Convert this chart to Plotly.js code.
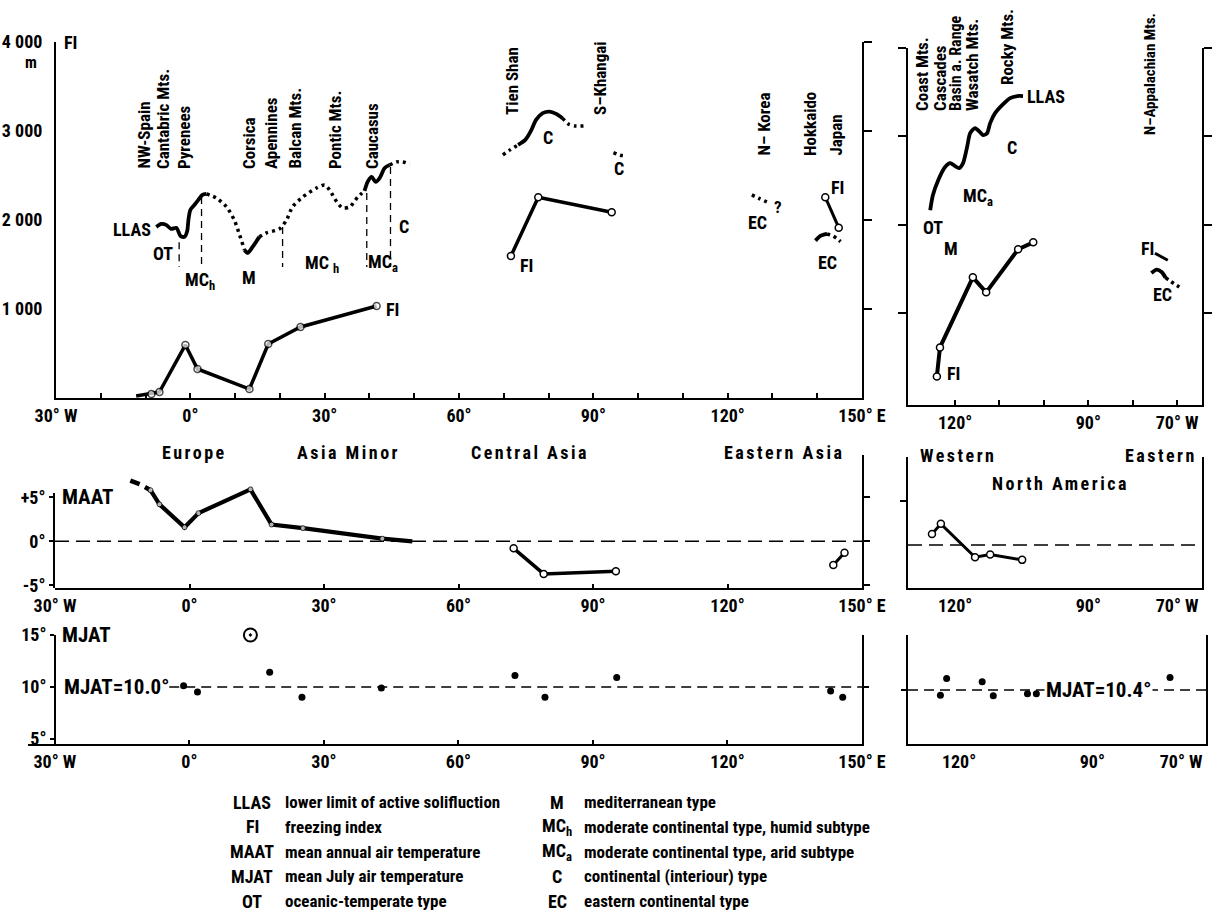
<!DOCTYPE html>
<html><head><meta charset="utf-8">
<script src="https://cdn.plot.ly/plotly-3.0.1.min.js"></script>
<style>html,body{margin:0;padding:0;background:#fff}#chart{width:1223px;height:914px}</style>
</head><body><div id="chart"></div>
<script>
// ===== DATA (longitude: °E, negative = °W for Eurasia; °W for North America) =====
// --- Eurasia, elevation panel (m) ---
const llasEuSolidALon=[-7.6,-6.5,-5.4,-4.3,-3.1,-2.2,-1.3,-0.7,-0.4,0.0,0.9,1.8,2.7,3.6];
const llasEuSolidA=[1922,1956,1945,1900,1911,1821,1810,1877,2012,2113,2169,2226,2282,2293];
const llasEuDotALon=[3.6,5.8,8.1,9.8,11.0,12.1];
const llasEuDotA=[2293,2248,2147,2001,1832,1663];
const llasEuSolidBLon=[12.1,12.8,13.9,15.4];
const llasEuSolidB=[1663,1630,1697,1810];
const llasEuDotBLon=[15.4,17.0,19.9,21.5,22.8,25.1,28.2,30.0,31.1,32.7,34.0,35.6,37.4,38.9];
const llasEuDotB=[1810,1855,1900,2001,2147,2259,2360,2394,2338,2203,2136,2147,2259,2327];
const llasEuSolidCLon=[38.9,39.6,40.5,41.4,42.3,43.4,44.5];
const llasEuSolidC=[2327,2428,2484,2428,2473,2585,2619];
const llasEuDotCLon=[44.5,46.1,47.4,49.0];
const llasEuDotC=[2619,2653,2653,2630];
const typeBoundLon=[-2.5,2.5,20.6,39.4,44.7];
const typeBoundTop=[1750,2259,1922,2304,2596];
const typeBoundBottom=1472;
const fiEuLon=[-12.1,-8.7,-6.9,-1.1,1.6,13.2,17.4,24.6,41.6];
const fiEu=[22,45,67,596,326,101,607,798,1034];
// Central Asia
const llasTsDotALon=[69.8,71.4,73.2];
const llasTsDotA=[2731,2788,2844];
const llasTsSolidLon=[73.2,74.8,76.1,77.2,78.7,80.2,81.7,83.1];
const llasTsSolid=[2844,2900,3004,3125,3200,3218,3192,3144];
const llasTsDotBLon=[83.1,84.4,85.9,87.8];
const llasTsDotB=[3144,3080,3057,3057];
const llasKhLon=[94.5,96.0,97.3];
const llasKh=[2757,2728,2720];
const fiCaLon=[71.6,77.7,94.1];
const fiCa=[1596,2256,2087];
// Eastern Asia
const llasKoLon=[125.4,126.9,129.4];
const llasKo=[2282,2245,2188];
const fiJpLon=[141.8,144.8];
const fiJp=[2256,1914];
const llasJpSolidLon=[139.6,140.7,142.2];
const llasJpSolid=[1768,1821,1843];
const llasJpDotLon=[142.2,143.5,144.3,145.2];
const llasJpDot=[1843,1821,1795,1757];
// North America, elevation panel (longitude °W)
const llasNaLonW=[125.6,125.0,123.8,122.3,121.1,120.0,119.1,118.2,117.3,116.6,115.5,114.4,113.7,112.8,112.1,111.0,109.4,107.6,106.0,104.7];
const llasNa=[2164,2334,2504,2651,2697,2663,2640,2697,2878,3036,3093,3048,3014,3036,3150,3263,3354,3433,3456,3456];
const fiNaLonW=[124.1,123.4,116.0,113.0,105.8,102.4];
const fiNa=[283,612,1405,1235,1722,1801];
const fiAppLonW=[75.0,72.1];
const fiApp=[1677,1598];
const llasAppSolidLonW=[75.8,74.6,73.5,72.6];
const llasAppSolid=[1454,1492,1465,1401];
const llasAppDotLonW=[72.6,71.8,70.7,69.5];
const llasAppDot=[1401,1371,1333,1295];
// --- MAAT (°C) ---
const maatEuDashLon=[-13.2,-10.7,-8.7];
const maatEuDash=[6.9,6.4,5.8];
const maatEuLon=[-8.7,-6.7,-1.1,2.0,13.6,18.3,25.3,43.0,49.7];
const maatEu=[5.8,4.2,1.6,3.2,5.9,1.9,1.5,0.3,0.0];
const maatCaLon=[72.3,79.0,95.1];
const maatCa=[-0.8,-3.7,-3.4];
const maatJpLon=[143.6,146.1];
const maatJp=[-2.7,-1.3];
const maatNaLonW=[125.2,123.2,115.5,112.1,104.9];
const maatNa=[1.25,2.4,-1.4,-1.1,-1.7];
// --- MJAT (°C) ---
const mjatEuLon=[-1.3,1.8,17.9,25.1,42.8,72.6,79.3,95.3,143.0,145.7];
const mjatEu=[10.1,9.5,11.4,9.0,9.9,11.1,9.0,10.9,9.6,9.0];
const mjatEuOutlierLon=[13.6];
const mjatEuOutlier=[15.0];
const mjatNaLonW=[124.2,122.8,114.8,112.3,104.6,102.6,72.5];
const mjatNa=[9.9,11.5,11.2,9.85,10.05,10.05,11.6];
const mjatMeanEu=10.0;
const mjatMeanNa=10.4;
// --- tick labels ---
const euMajorVals=[-30,0,30,60,90,120,150];
const euMajorText=['30° W','0°','30°','60°','90°','120°','150° E'];
const euMinorVals=[-20,-10,10,20,40,50,70,80,100,110,130,140];
const naMajorVals=[120,90,70];
const naMajorText=['120°','90°','70° W'];
const naMinorVals=[110,100,80];
const elevTickVals=[1000,2000,3000,4000];
const elevTickText=['1 000','2 000','3 000','4 000'];
const maatTickVals=[-5,0,5];
const maatTickText=['-5°','0°','+5°'];
const mjatTickVals=[5,10,15];
const mjatTickText=['5°','10°','15°'];
const legendAbbrL=['LLAS','FI','MAAT','MJAT','OT'];
const legendDescL=['lower limit of active solifluction','freezing index','mean annual air temperature','mean July air temperature','oceanic-temperate type'];
const legendAbbrR=['M','MC<sub>h</sub>','MC<sub>a</sub>','C','EC'];
const legendDescR=['mediterranean type','moderate continental type, humid subtype','moderate continental type, arid subtype','continental (interiour) type','eastern continental type'];

// ===== LAYOUT HELPERS =====
const W=1223,H=914;
const FONT="'Roboto Condensed','Liberation Sans',sans-serif";
const fx=p=>p/W, fy=p=>1-p/H;
const xd=(a,b)=>[fx(a),fx(b)], yd=(t,b)=>[fy(b),fy(t)];
const fnt=(s,w)=>({family:FONT,size:s,color:'#000',weight:w||'bold'});

const traces=[];
function tr(x,y,xa,ya,o){traces.push(Object.assign({type:'scatter',mode:'lines',x:x,y:y,xaxis:xa,yaxis:ya,hoverinfo:'skip',showlegend:false,cliponaxis:false},o));}
const solid=(w)=>({color:'#000',width:w||3.8,shape:'spline',smoothing:0.7});
const dotted=(w)=>({color:'#000',width:w||3.5,dash:'3px,4px',shape:'spline',smoothing:0.7});
const straight=(w)=>({color:'#000',width:w||3.5});
const openM=(s)=>({symbol:'circle',size:s||7,color:'#fff',line:{color:'#000',width:1.5}});

// Eurasia elevation
tr(llasEuSolidALon,llasEuSolidA,'x','y',{line:solid()});
tr(llasEuDotALon,llasEuDotA,'x','y',{line:dotted()});
tr(llasEuSolidBLon,llasEuSolidB,'x','y',{line:solid()});
tr(llasEuDotBLon,llasEuDotB,'x','y',{line:dotted()});
tr(llasEuSolidCLon,llasEuSolidC,'x','y',{line:solid()});
tr(llasEuDotCLon,llasEuDotC,'x','y',{line:dotted()});
typeBoundLon.forEach((lon,i)=>tr([lon,lon],[typeBoundTop[i],typeBoundBottom],'x','y',{line:{color:'#000',width:1.3,dash:'7px,5px'}}));
tr(fiEuLon,fiEu,'x','y',{mode:'lines+markers',line:straight(3.5),marker:Object.assign(openM(7),{size:fiEuLon.map((_,i)=>i===0?0:7)})});
tr(llasTsDotALon,llasTsDotA,'x','y',{line:dotted()});
tr(llasTsSolidLon,llasTsSolid,'x','y',{line:solid()});
tr(llasTsDotBLon,llasTsDotB,'x','y',{line:dotted()});
tr(llasKhLon,llasKh,'x','y',{line:dotted()});
tr(fiCaLon,fiCa,'x','y',{mode:'lines+markers',line:straight(3.5),marker:openM(7)});
tr(llasKoLon,llasKo,'x','y',{line:dotted()});
tr(fiJpLon,fiJp,'x','y',{mode:'lines+markers',line:straight(3),marker:openM(7)});
tr(llasJpSolidLon,llasJpSolid,'x','y',{line:solid()});
tr(llasJpDotLon,llasJpDot,'x','y',{line:dotted()});
tr([],[],'x','y7',{});
// North America elevation
tr(llasNaLonW,llasNa,'x2','y2',{line:solid()});
tr(fiNaLonW,fiNa,'x2','y2',{mode:'lines+markers',line:straight(4),marker:openM(7)});
tr(fiAppLonW,fiApp,'x2','y2',{line:straight(3)});
tr(llasAppSolidLonW,llasAppSolid,'x2','y2',{line:solid()});
tr(llasAppDotLonW,llasAppDot,'x2','y2',{line:dotted()});
tr([],[],'x2','y8',{});
// MAAT
tr(maatEuDashLon,maatEuDash,'x3','y3',{line:{color:'#000',width:4.5,dash:'10px,6px'}});
tr(maatEuLon,maatEu,'x3','y3',{mode:'lines+markers',line:straight(4.2),marker:Object.assign(openM(5),{size:maatEuLon.map((_,i)=>i===maatEuLon.length-1?0:5),line:{color:'#000',width:1}})});
tr(maatCaLon,maatCa,'x3','y3',{mode:'lines+markers',line:straight(3.5),marker:openM(7)});
tr(maatJpLon,maatJp,'x3','y3',{mode:'lines+markers',line:straight(3),marker:openM(7)});
tr([],[],'x3','y9',{});
tr(maatNaLonW,maatNa,'x4','y4',{mode:'lines+markers',line:straight(3),marker:openM(7)});
// MJAT
tr(mjatEuLon,mjatEu,'x5','y5',{mode:'markers',marker:{symbol:'circle',size:7,color:'#000'}});
tr(mjatEuOutlierLon,mjatEuOutlier,'x5','y5',{mode:'markers',marker:{symbol:'circle-open-dot',size:13,color:'#000',line:{color:'#000',width:2}}});
tr([],[],'x5','y10',{});
tr(mjatNaLonW,mjatNa,'x6','y6',{mode:'markers',marker:{symbol:'circle',size:7,color:'#000'}});

// ===== AXES =====
const TF=fnt(18);
const ax=(o)=>Object.assign({showgrid:false,zeroline:false,showline:true,linecolor:'#000',linewidth:2,ticks:'',tickcolor:'#000',tickwidth:2,fixedrange:true,tickfont:TF},o);
const minorIn=(vals)=>({tickmode:'array',tickvals:vals,ticks:'inside',ticklen:5,tickwidth:2,tickcolor:'#000',showgrid:false});
const layout={
  width:W,height:H,margin:{l:0,r:0,t:0,b:0},paper_bgcolor:'#fff',plot_bgcolor:'rgba(0,0,0,0)',showlegend:false,
  xaxis:ax({domain:xd(56,862),range:[-30,150],anchor:'y',tickmode:'array',tickvals:euMajorVals,ticktext:euMajorText,ticks:'inside',ticklen:5,minor:minorIn(euMinorVals)}),
  yaxis:ax({domain:yd(42,398),range:[0,4000],anchor:'x',tickmode:'array',tickvals:elevTickVals,ticktext:elevTickText,ticklabelstandoff:8}),
  yaxis7:ax({overlaying:'y',side:'right',anchor:'x',range:[0,4000],tickmode:'array',tickvals:elevTickVals,ticks:'outside',ticklen:8,showticklabels:false}),
  xaxis2:ax({domain:xd(908,1202),range:[130.6,64.4],anchor:'y2',tickmode:'array',tickvals:naMajorVals,ticktext:naMajorText,ticks:'inside',ticklen:5,minor:minorIn(naMinorVals)}),
  yaxis2:ax({domain:yd(48,405),range:[-40,4000],anchor:'x2',tickmode:'array',tickvals:elevTickVals,ticks:'outside',ticklen:8,showticklabels:false}),
  yaxis8:ax({overlaying:'y2',side:'right',anchor:'x2',range:[-40,4000],tickmode:'array',tickvals:elevTickVals,ticks:'outside',ticklen:8,showticklabels:false}),
  xaxis3:ax({domain:xd(55,862),range:[-30,150],anchor:'y3',tickmode:'array',tickvals:euMajorVals,ticktext:euMajorText,ticks:'inside',ticklen:4}),
  yaxis3:ax({domain:yd(455,588),range:[-5.3,9.8],anchor:'x3',side:'right',tickmode:'array',tickvals:maatTickVals,ticks:'outside',ticklen:6,showticklabels:false}),
  yaxis9:ax({domain:yd(493,588),range:[-5.3,5.5],anchor:'x3',side:'left',tickmode:'array',tickvals:maatTickVals,ticktext:maatTickText,ticks:'outside',ticklen:4}),
  xaxis4:ax({domain:xd(908,1202),range:[130.6,64.4],anchor:'y4',tickmode:'array',tickvals:naMajorVals,ticktext:naMajorText}),
  yaxis4:ax({domain:yd(457,588),range:[-4.9,10.0],anchor:'x4',mirror:true,tickmode:'array',tickvals:[5],ticks:'outside',ticklen:6,showticklabels:false}),
  xaxis5:ax({domain:xd(28,862),range:[-36,150],anchor:'y5',tickmode:'array',tickvals:euMajorVals,ticktext:euMajorText,ticks:'inside',ticklen:4}),
  yaxis5:ax({domain:yd(635,744),range:[4.5,15.0],anchor:'free',position:fx(55),tickmode:'array',tickvals:mjatTickVals,ticktext:mjatTickText,ticks:'outside',ticklen:4}),
  yaxis10:ax({overlaying:'y5',side:'right',anchor:'x5',range:[4.5,15.0],tickmode:'array',tickvals:[mjatMeanEu],ticks:'outside',ticklen:5,showticklabels:false}),
  xaxis6:ax({domain:xd(908,1206),range:[131.5,64.4],anchor:'y6',tickmode:'array',tickvals:naMajorVals,ticktext:naMajorText}),
  yaxis6:ax({domain:yd(635,744),range:[5.2,15.7],anchor:'x6',mirror:true,tickmode:'array',tickvals:[mjatMeanNa],ticks:'outside',ticklen:5,showticklabels:false}),
  shapes:[
    {type:'line',xref:'x3 domain',yref:'y3',x0:0,x1:1,y0:0,y1:0,line:{color:'#000',width:1.5,dash:'14px,7px'},layer:'below'},
    {type:'line',xref:'x4 domain',yref:'y4',x0:0,x1:1,y0:0,y1:0,line:{color:'#000',width:1.5,dash:'14px,7px'},layer:'below'},
    {type:'line',xref:'x5',yref:'y5',x0:-4.5,x1:150,y0:mjatMeanEu,y1:mjatMeanEu,line:{color:'#000',width:1.5,dash:'10px,6px'},layer:'below'},
    {type:'line',xref:'x6 domain',yref:'y6',x0:0,x1:1,y0:mjatMeanNa,y1:mjatMeanNa,line:{color:'#000',width:1.5,dash:'10px,6px'},layer:'below'}
  ],
  annotations:[]
};
const A=layout.annotations;
function lab(text,px,py,o){A.push(Object.assign({text:text,x:fx(px),y:fy(py),xref:'paper',yref:'paper',showarrow:false,xanchor:'center',yanchor:'middle',font:fnt(18)},o||{}));}
function vlab(text,px,pyBottom,size){lab(text,px,pyBottom,{textangle:-90,yanchor:'bottom',font:fnt(size||17)});}
// top-left panel labels
lab('FI',62,43,{xanchor:'left'});
lab('m',31,63,{font:fnt(16)});
['NW-Spain','Cantabric Mts.','Pyrenees','Corsica','Apennines','Balcan Mts.','Pontic Mts.','Caucasus'].forEach((t,i)=>vlab(t,[143,163,184,249,271,294,335,372][i],171));
lab('LLAS',153,229,{xanchor:'right'});
lab('OT',163,253);
lab('MC<sub>h</sub>',200,281);
lab('M',249,277);
lab('MC <sub>h</sub>',322,264);
lab('MC<sub>a</sub>',383,263);
lab('C',404,226);
lab('FI',384,309,{xanchor:'left'});
vlab('Tien Shan',512,117); vlab('S–Khangai',600,117);
lab('C',548,138); lab('C',619,169);
lab('FI',518,265,{xanchor:'left'});
vlab('N– Korea',763,158); vlab('Hokkaido',810,158); vlab('Japan',835,158);
lab('EC',757,222); lab('?',778,207,{font:fnt(17)});
lab('FI',837,187); lab('EC',827,262);
// North America top labels
vlab('Coast Mts.',922,113); vlab('Cascades',940,113); vlab('Basin a. Range',955,113,16); vlab('Wasatch Mts.',972,113);
vlab('Rocky Mts.',1007,87); vlab('N–Appalachian Mts.',1150,137,15);
lab('LLAS',1025,97,{xanchor:'left'});
lab('C',1012,147);
lab('MC<sub>a</sub>',978,197);
lab('OT',933,227);
lab('M',951,248);
lab('FI',945,373,{xanchor:'left'});
lab('FI',1147,248);
lab('EC',1162,294);
// region labels
const sp=t=>'<span style="letter-spacing:2.5px">'+t+'</span>';
lab(sp('Europe'),195,452); lab(sp('Asia Minor'),348,452);
lab(sp('Central Asia'),530,452); lab(sp('Eastern Asia'),784,452);
lab(sp('Western'),958,455); lab(sp('Eastern'),1161,455);
lab(sp('North America'),1060,483);
lab('MAAT',60,497,{xanchor:'left',font:fnt(21)});
lab('MJAT',60,635,{xanchor:'left',font:fnt(21)});
lab('MJAT='+mjatMeanEu.toFixed(1)+'°',171,687,{xanchor:'right',font:fnt(21)});
lab('MJAT='+mjatMeanNa.toFixed(1)+'°',1098,690,{font:fnt(21),bgcolor:'#fff'});
// legend
legendAbbrL.forEach((t,i)=>{const y=802+i*24.8;lab(t,252,y);lab(legendDescL[i],283,y,{xanchor:'left',font:fnt(17)});});
legendAbbrR.forEach((t,i)=>{const y=802+i*24.8;lab(t,557,y);lab(legendDescR[i],582,y,{xanchor:'left',font:fnt(17)});});

Plotly.newPlot('chart',traces,layout,{staticPlot:true,displayModeBar:false});
</script></body></html>
